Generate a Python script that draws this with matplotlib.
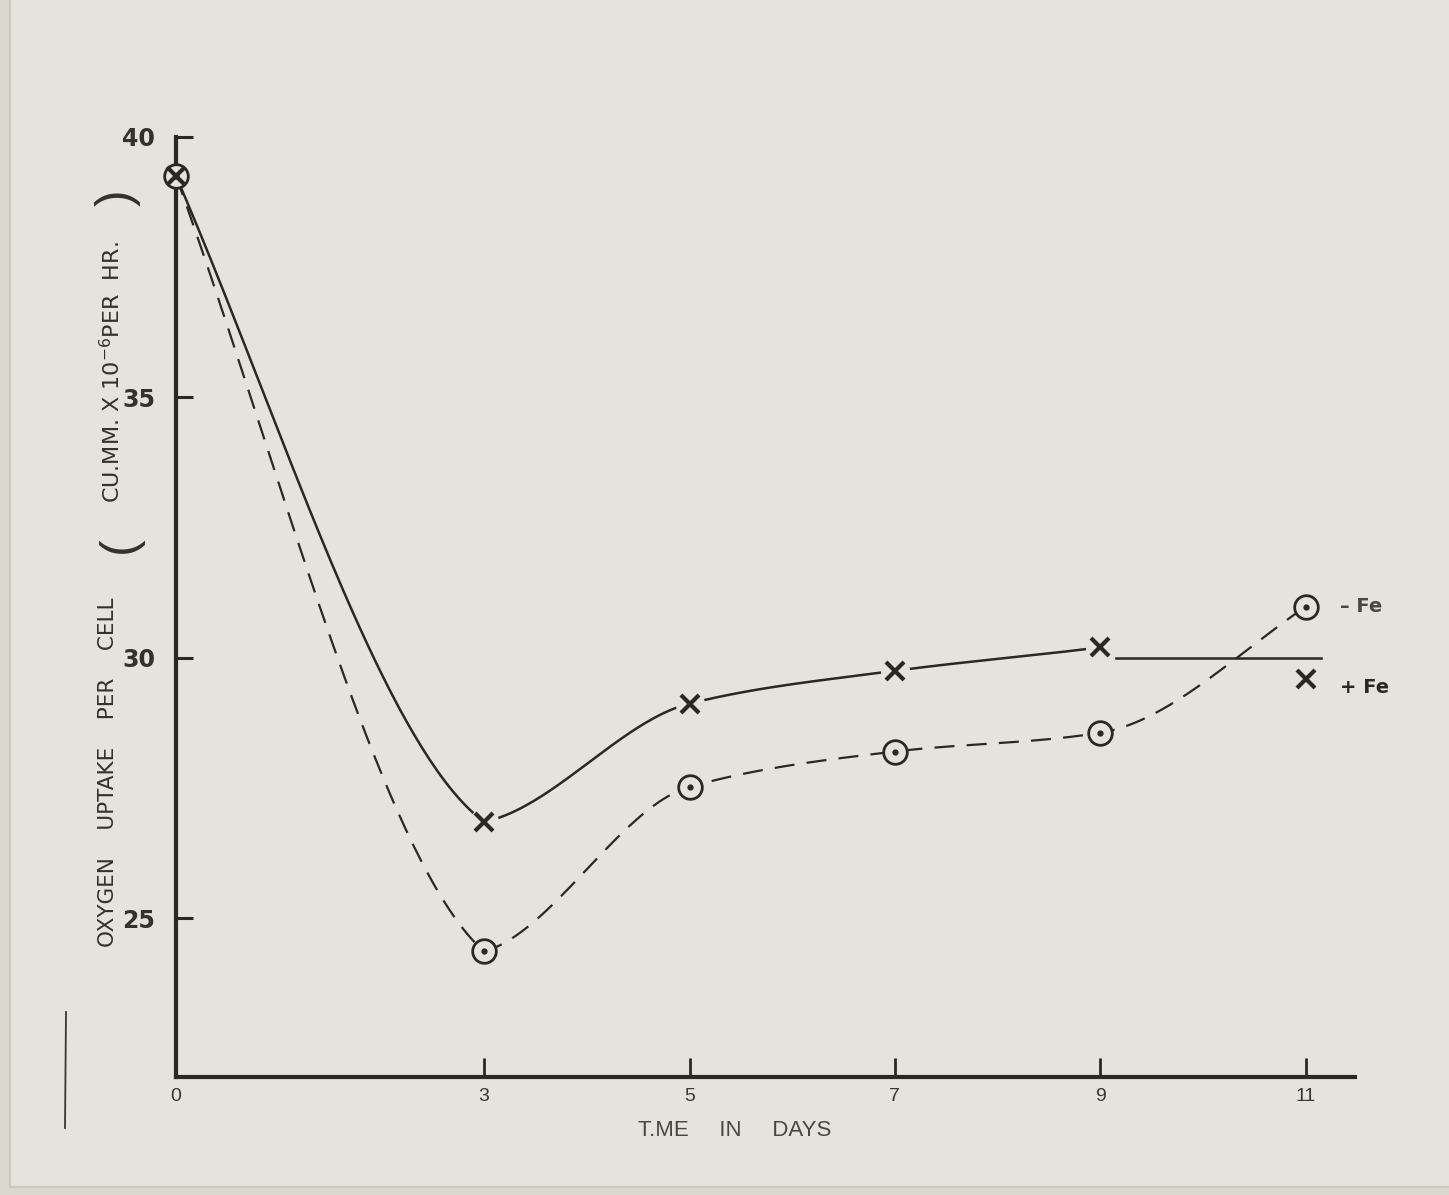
import numpy as np
import matplotlib.pyplot as plt
from matplotlib.lines import Line2D
from matplotlib.patches import Rectangle

# days of culture
days = [0, 3, 5, 7, 9, 11]

# oxygen uptake, cu.mm x 10^-6 per cell per hr
plus_fe = [39.25, 26.85, 29.12, 29.75, 30.2, 29.6]
minus_fe = [39.25, 24.36, 27.52, 28.2, 28.56, 30.98]

# the +Fe curve is drawn through days 0-9, then a flat ruled line at 30
plus_fe_curve_n = 5
plus_fe_tail_x = [9.15, 11.15]
plus_fe_tail_y = [30.0, 30.0]

x_ticks = [0, 3, 5, 7, 9, 11]
y_ticks = [25, 30, 35, 40]

BG = "#e4e4dc"
INK = "#2b2723"
W, H = 1449, 1195


def smooth(xs, ys, n=80):
    # hand-drawn looking curve: cubic hermite segments, corners hidden under markers
    xs = np.asarray(xs, float)
    ys = np.asarray(ys, float)
    h = np.diff(xs)
    d = np.diff(ys) / h
    k = len(xs)
    left = np.zeros(k)
    right = np.zeros(k)
    left[0] = right[0] = 1.1 * d[0]
    left[-1] = right[-1] = 1.1 * d[-1]
    for i in range(1, k - 1):
        if d[i - 1] * d[i] <= 0:
            left[i] = 0.35 * d[i - 1]
            right[i] = 0.35 * d[i]
        else:
            w1 = 2 * h[i] + h[i - 1]
            w2 = h[i] + 2 * h[i - 1]
            left[i] = right[i] = (w1 + w2) / (w1 / d[i - 1] + w2 / d[i])
    px, py = [], []
    t = np.linspace(0, 1, n)
    h00 = 2 * t**3 - 3 * t**2 + 1
    h10 = t**3 - 2 * t**2 + t
    h01 = -2 * t**3 + 3 * t**2
    h11 = t**3 - t**2
    for i in range(k - 1):
        px.append(xs[i] + t * h[i])
        py.append(h00 * ys[i] + h10 * h[i] * right[i] + h01 * ys[i + 1] + h11 * h[i] * left[i + 1])
    return np.concatenate(px), np.concatenate(py)


fig = plt.figure(figsize=(W / 100, H / 100), dpi=100)
fig.patch.set_facecolor("#d8d8ce")
fig.add_artist(Rectangle((10 / W, 8 / H), 1, 1, transform=fig.transFigure,
                         facecolor=BG, edgecolor="#cacac0", lw=1.5, zorder=-10))

ax = fig.add_axes([176 / W, 1 - 1077 / H, (1355 - 176) / W, (1077 - 137) / H])
ax.patch.set_visible(False)
ax.set_xlim(0, 11.48)
ax.set_ylim(21.95, 40)

for side in ["top", "right"]:
    ax.spines[side].set_visible(False)
for side in ["left", "bottom"]:
    ax.spines[side].set_linewidth(3)
    ax.spines[side].set_color(INK)

ax.set_xticks(x_ticks)
ax.set_xticklabels([str(v) for v in x_ticks], fontfamily="Liberation Sans", fontsize=14, color="#3a3631")
ax.set_yticks(y_ticks)
ax.set_yticklabels([str(v) for v in y_ticks], fontfamily="DejaVu Sans", fontweight="bold",
                   fontsize=17, color="#34302b")
ax.tick_params(axis="x", direction="in", length=14, width=2, color=INK, pad=8)
ax.tick_params(axis="y", direction="in", length=12, width=2.2, color=INK, pad=15)

# curves
cx, cy = smooth(days[:plus_fe_curve_n], plus_fe[:plus_fe_curve_n])
ax.plot(cx, cy, color=INK, lw=1.8, solid_capstyle="round", zorder=2)
ax.plot(plus_fe_tail_x, plus_fe_tail_y, color=INK, lw=1.8, zorder=2)
dx, dy = smooth(days, minus_fe)
ax.plot(dx, dy, color=INK, lw=1.6, linestyle=(0, (9, 5.5)), zorder=2)

# clear a small gap round the X marks
ax.plot(days[1:], plus_fe[1:], linestyle="none", marker="o", markersize=21,
        markerfacecolor=BG, markeredgewidth=0, zorder=3, clip_on=False)
ax.plot(days, minus_fe, linestyle="none", marker="o", markersize=17,
        markerfacecolor=BG, markeredgecolor=INK, markeredgewidth=2, zorder=4, clip_on=False)
ax.plot(days, minus_fe, linestyle="none", marker="o", markersize=3.5,
        color=INK, zorder=5, clip_on=False)
ax.plot(days, plus_fe, linestyle="none", marker="x", markersize=13,
        markeredgewidth=3, color=INK, zorder=6, clip_on=False)

ax.text(11.33, minus_fe[-1], "\u2013 Fe", fontsize=14, fontweight="bold", color="#4a4640",
        ha="left", va="center", clip_on=False)
ax.text(11.33, 29.42, "+ Fe", fontsize=14, fontweight="bold", color=INK,
        ha="left", va="center", clip_on=False)

ax.set_xlabel("T.ME     IN     DAYS", fontfamily="Liberation Sans", fontsize=16, color="#4a4640")
ax.xaxis.set_label_coords((735 - 176) / (1355 - 176), -(1120 - 1077) / (1077 - 137))

# y axis title, written in pieces like the original lettering
fig.text(108 / W, 1 - 772 / H, "OXYGEN    UPTAKE    PER    CELL", rotation=90, fontsize=15.5,
         color="#34302b", ha="center", va="center")
fig.text(112 / W, 1 - 372 / H, "CU.MM. X 10$^{-6}$PER  HR.", rotation=90, fontsize=16,
         color="#34302b", ha="center", va="center")
fig.text(120 / W, 1 - 545 / H, "(", rotation=90, fontsize=36, fontfamily="Liberation Sans",
         color="#34302b", ha="center", va="center")
fig.text(118 / W, 1 - 198 / H, ")", rotation=90, fontsize=36, fontfamily="Liberation Sans",
         color="#34302b", ha="center", va="center")

# stray pencil mark at lower left of the print
fig.add_artist(Line2D([65 / W, 66 / W], [1 - 1128 / H, 1 - 1012 / H], transform=fig.transFigure,
                      color="#3a3631", lw=1.3))

fig.savefig("out.png", dpi=100, facecolor=fig.get_facecolor())
